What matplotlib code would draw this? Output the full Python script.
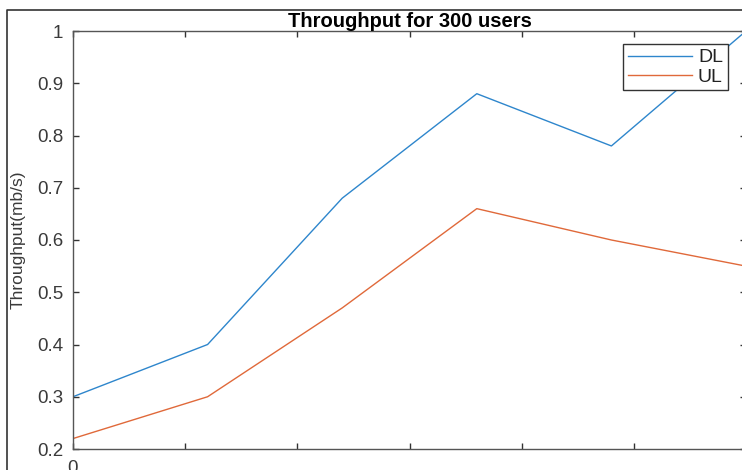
import numpy as np
import matplotlib
matplotlib.use('Agg')
import matplotlib.pyplot as plt
from matplotlib.lines import Line2D

plt.rcParams['font.family'] = ['Liberation Sans', 'DejaVu Sans']

# throughput samples for the 300-user run
users = [0, 60, 120, 180, 240, 300]
dl = [0.30, 0.40, 0.68, 0.88, 0.78, 1.00]
ul = [0.22, 0.30, 0.47, 0.66, 0.60, 0.55]
xticks = [0, 50, 100, 150, 200, 250, 300]
xtick_labels = ['0', '', '', '', '', '', '']
yticks = [0.2, 0.3, 0.4, 0.5, 0.6, 0.7, 0.8, 0.9, 1.0]
ytick_labels = ['0.2', '0.3', '0.4', '0.5', '0.6', '0.7', '0.8', '0.9', '1']

W, H = 742, 470
fig = plt.figure(figsize=(W / 100, H / 100), dpi=100)
ax = fig.add_axes([73 / W, 21 / H, 673 / W, 418 / H])

ax.plot(users, dl, color='#2E86CC', lw=1.0, label='DL')
ax.plot(users, ul, color='#E0693A', lw=1.0, label='UL')

ax.set_xlim(0, 300)
ax.set_ylim(0.2, 1.0)
ax.set_xticks(xticks)
ax.set_xticklabels(xtick_labels)
ax.set_yticks(yticks)
ax.set_yticklabels(ytick_labels)

grey = '#333333'
for s in ax.spines.values():
    s.set_color('#555555')
    s.set_linewidth(1.0)
ax.tick_params(direction='in', length=4, width=1.0, color=grey,
               top=True, right=True, labelsize=13.5, labelcolor='#3a3a3a')
ax.tick_params(axis='y', pad=7)
ax.tick_params(axis='x', pad=8)

ax.set_ylabel('Throughput(mb/s)', fontsize=12.5, color='#3a3a3a')
ax.yaxis.set_label_coords(-0.071, 0.5)
ax.set_title('Throughput for 300 users', fontsize=14.5, fontweight='bold', pad=3)

leg = ax.legend(loc='upper right', bbox_to_anchor=(0.973, 0.969), borderaxespad=0,
                fontsize=14, handlelength=3.3, labelspacing=0.08, borderpad=0.25,
                handletextpad=0.3, fancybox=False, framealpha=1)
leg.get_frame().set_edgecolor(grey)
leg.get_frame().set_linewidth(1.0)
for t in leg.get_texts():
    t.set_color('#222222')

# outer window border
fig.add_artist(Line2D([7 / W, 7 / W, 1.0], [0, 1 - 10 / H, 1 - 10 / H],
                      transform=fig.transFigure, color='#333333', lw=1.2))

fig.savefig('out.png', dpi=100)
